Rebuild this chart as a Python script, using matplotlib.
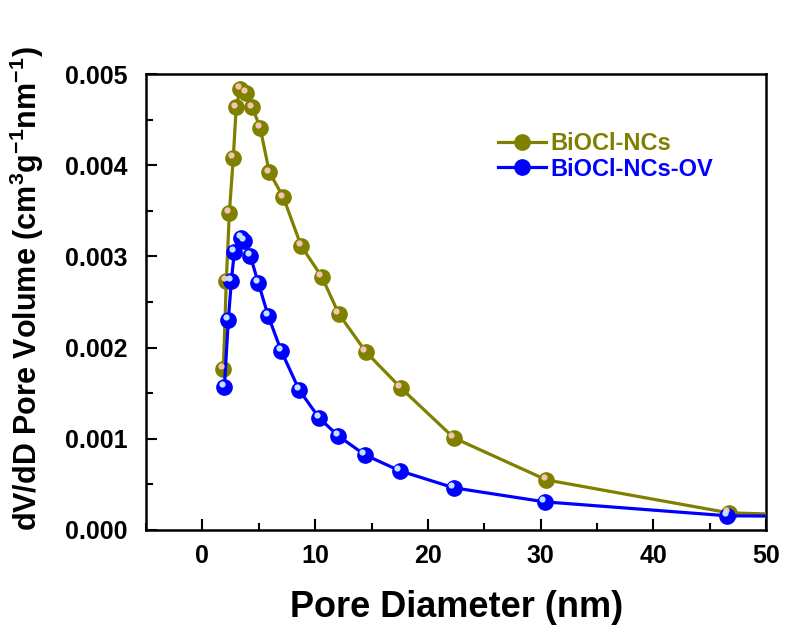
import matplotlib
matplotlib.use("Agg")
from matplotlib import pyplot as plt
from matplotlib.ticker import MultipleLocator, FormatStrFormatter
import matplotlib.transforms as mtransforms

# BJH pore size distribution
d_ncs = [1.86, 2.12, 2.39, 2.74, 3.0, 3.36, 3.89, 4.42, 5.13, 5.93, 7.17, 8.76,
         10.6, 12.1, 14.5, 17.6, 22.3, 30.5, 46.7, 75.0]
v_ncs = [0.001765, 0.00273, 0.003476, 0.00408, 0.004638, 0.004836, 0.004792,
         0.004638, 0.004408, 0.003925, 0.003651, 0.003114, 0.002774, 0.002368,
         0.001952, 0.001557, 0.001009, 0.000548, 0.000186, 0.00009]

d_ov = [1.95, 2.3, 2.57, 2.83, 3.45, 3.72, 4.25, 4.96, 5.84, 6.99, 8.58, 10.35,
        12.04, 14.42, 17.52, 22.3, 30.35, 46.55, 75.0]
v_ov = [0.001568, 0.002303, 0.00273, 0.003048, 0.003202, 0.003169, 0.003004,
        0.002708, 0.002346, 0.001963, 0.001535, 0.001228, 0.001031, 0.000822,
        0.000647, 0.000461, 0.000307, 0.000154, 0.00013]

plt.rcParams['font.family'] = ['Liberation Sans', 'DejaVu Sans']
plt.rcParams['font.weight'] = 'bold'
plt.rcParams['mathtext.fontset'] = 'custom'
plt.rcParams['mathtext.rm'] = 'Liberation Sans:bold'
plt.rcParams['mathtext.bf'] = 'Liberation Sans:bold'
plt.rcParams['mathtext.default'] = 'bf'

fig = plt.figure(figsize=(7.85, 6.3), dpi=100)
ax = fig.add_axes([0.186, 0.159, 0.79, 0.7235])

series = [
    (d_ncs, v_ncs, '#808000', '#f2c4b4', 'BiOCl-NCs'),
    (d_ov, v_ov, '#0000ff', '#bfe4ff', 'BiOCl-NCs-OV'),
]

# small offset for the shiny highlight on each ball marker
shine = mtransforms.offset_copy(ax.transData, fig=fig, x=-1.8, y=1.8, units='points')

for x, y, c, hl, name in series:
    ax.plot(x, y, '-o', color=c, lw=2.3, ms=11, mec=c, mfc=c, label=name, zorder=3)
    ax.plot(x, y, 'o', color=hl, ms=4.5, mec='none', transform=shine, zorder=4)

ax.set_xlim(-5, 50)
ax.set_ylim(0, 0.005)
ax.xaxis.set_major_locator(MultipleLocator(10))
ax.xaxis.set_minor_locator(MultipleLocator(5))
ax.yaxis.set_major_locator(MultipleLocator(0.001))
ax.yaxis.set_minor_locator(MultipleLocator(0.0005))
ax.yaxis.set_major_formatter(FormatStrFormatter('%.3f'))

ax.tick_params(which='both', direction='in', top=False, right=False, width=1.5)
ax.tick_params(which='major', length=8, labelsize=18)
ax.tick_params(axis='y', which='major', pad=13)
ax.tick_params(axis='x', which='major', pad=10)
ax.tick_params(which='minor', length=5)
for lbl in ax.get_xticklabels() + ax.get_yticklabels():
    lbl.set_fontweight('bold')
for s in ax.spines.values():
    s.set_linewidth(1.8)

ax.set_xlabel('Pore Diameter (nm)', fontsize=26, fontweight='bold', labelpad=16)
ax.set_ylabel(r'dV/dD Pore Volume (cm$^{3}$g$^{-1}$nm$^{-1}$)', fontsize=22,
              fontweight='bold')
ax.yaxis.set_label_coords(-0.162, 0.53)

leg = ax.legend(loc='upper left', bbox_to_anchor=(0.553, 0.893), frameon=False,
                fontsize=17, handlelength=2.0, handletextpad=0.2, labelspacing=0.1,
                borderaxespad=0.0)
for text, (_, _, c, _, _) in zip(leg.get_texts(), series):
    text.set_color(c)
    text.set_fontweight('bold')

fig.savefig('out.png', dpi=100)
